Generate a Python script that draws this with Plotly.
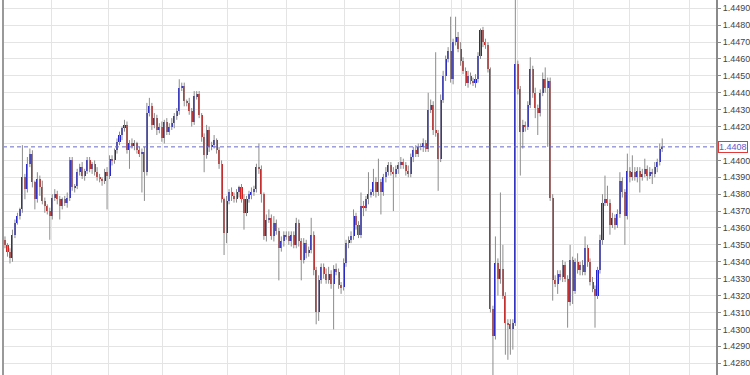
import plotly.graph_objects as go

# ---- data ----
first_open = 1.4353
close = [
    1.4350, 1.4346, 1.4342, 1.4356, 1.4363, 1.4367, 1.4371, 1.4390, 1.4383, 1.4398,
    1.4404, 1.4387, 1.4377, 1.4389, 1.4384, 1.4376, 1.4373, 1.4370, 1.4367, 1.4378,
    1.4380, 1.4377, 1.4373, 1.4377, 1.4375, 1.4378, 1.4400, 1.4384, 1.4385, 1.4393,
    1.4396, 1.4391, 1.4394, 1.4400, 1.4395, 1.4398, 1.4393, 1.4390, 1.4389, 1.4388,
    1.4393, 1.4391, 1.4401, 1.4400, 1.4406, 1.4411, 1.4415, 1.4419, 1.4421, 1.4406,
    1.4410, 1.4409, 1.4410, 1.4406, 1.4404, 1.4405, 1.4393, 1.4428, 1.4432, 1.4421,
    1.4425, 1.4418, 1.4420, 1.4413, 1.4423, 1.4417, 1.4420, 1.4422, 1.4426, 1.4429,
    1.4443, 1.4444, 1.4435, 1.4434, 1.4429, 1.4423, 1.4438, 1.4439, 1.4427, 1.4414,
    1.4403, 1.4418, 1.4408, 1.4409, 1.4412, 1.4406, 1.4398, 1.4377, 1.4357, 1.4376,
    1.4381, 1.4379, 1.4377, 1.4381, 1.4384, 1.4377, 1.4369, 1.4377, 1.4380, 1.4381,
    1.4383, 1.4396, 1.4395, 1.4380, 1.4355, 1.4365, 1.4366, 1.4355, 1.4363, 1.4358,
    1.4348, 1.4352, 1.4356, 1.4355, 1.4352, 1.4356, 1.4350, 1.4363, 1.4352, 1.4341,
    1.4351, 1.4345, 1.4347, 1.4356, 1.4335, 1.4310, 1.4329, 1.4337, 1.4333, 1.4329,
    1.4333, 1.4327, 1.4336, 1.4334, 1.4326, 1.4325, 1.4339, 1.4351, 1.4353, 1.4355,
    1.4367, 1.4362, 1.4356, 1.4373, 1.4372, 1.4377, 1.4380, 1.4381, 1.4387, 1.4381,
    1.4387, 1.4381, 1.4390, 1.4393, 1.4397, 1.4393, 1.4392, 1.4395, 1.4397, 1.4399,
    1.4397, 1.4394, 1.4392, 1.4402, 1.4406, 1.4404, 1.4408, 1.4408, 1.4410, 1.4407,
    1.4430, 1.4433, 1.4418, 1.4416, 1.4401, 1.4436, 1.4450, 1.4460, 1.4465, 1.4448,
    1.4470, 1.4473, 1.4466, 1.4459, 1.4453, 1.4446, 1.4450, 1.4447, 1.4446, 1.4448,
    1.4462, 1.4477, 1.4470, 1.4468, 1.4454, 1.4312, 1.4296, 1.4339, 1.4330, 1.4336,
    1.4320, 1.4304, 1.4303, 1.4300, 1.4304, 1.4457, 1.4442, 1.4417, 1.4421, 1.4420,
    1.4433, 1.4454, 1.4440, 1.4431, 1.4428, 1.4440, 1.4448, 1.4443, 1.4447, 1.4378,
    1.4329, 1.4327, 1.4333, 1.4331, 1.4338, 1.4330, 1.4316, 1.4341, 1.4323, 1.4340,
    1.4335, 1.4338, 1.4334, 1.4348, 1.4340, 1.4328, 1.4324, 1.4320, 1.4335, 1.4353,
    1.4375, 1.4377, 1.4375, 1.4362, 1.4366, 1.4362, 1.4368, 1.4388, 1.4381, 1.4367,
    1.4394, 1.4390, 1.4393, 1.4390, 1.4394, 1.4390, 1.4392, 1.4395, 1.4391, 1.4393,
    1.4392, 1.4396, 1.4399, 1.4407, 1.4408,
]
# upper / lower shadow lengths in pips
up_wick = [
    2, 1, 2, 3, 2, 2, 1, 19, 2, 4,
    3, 2, 1, 4, 2, 4, 2, 1, 2, 2,
    3, 2, 2, 1, 2, 3, 2, 2, 1, 2,
    2, 3, 1, 2, 2, 1, 2, 3, 2, 1,
    2, 3, 2, 2, 1, 2, 2, 1, 3, 2,
    2, 3, 2, 1, 2, 2, 3, 6, 5, 2,
    3, 2, 2, 3, 1, 2, 2, 3, 2, 2,
    5, 2, 2, 1, 3, 2, 3, 2, 2, 1,
    2, 3, 2, 2, 3, 1, 2, 2, 1, 3,
    2, 3, 2, 2, 1, 2, 3, 2, 2, 3,
    2, 2, 14, 2, 1, 3, 5, 2, 4, 2,
    2, 3, 2, 2, 3, 2, 2, 3, 2, 2,
    3, 2, 2, 10, 2, 2, 3, 2, 2, 3,
    4, 2, 2, 3, 2, 2, 3, 2, 2, 3,
    4, 2, 2, 8, 3, 2, 13, 2, 8, 3,
    14, 2, 2, 3, 2, 2, 3, 2, 2, 3,
    2, 2, 3, 2, 2, 3, 2, 2, 3, 2,
    10, 3, 2, 46, 2, 3, 3, 2, 2, 20,
    2, 12, 3, 4, 2, 2, 3, 2, 2, 3,
    2, 1, 2, 2, 2, 1, 2, 16, 3, 45,
    14, 2, 2, 3, 2, 43, 2, 2, 3, 2,
    2, 7, 2, 3, 2, 2, 4, 7, 2, 2,
    2, 3, 2, 2, 3, 2, 2, 9, 2, 2,
    5, 2, 3, 7, 2, 2, 3, 2, 2, 3,
    5, 14, 8, 2, 3, 2, 3, 5, 2, 2,
    10, 2, 10, 3, 2, 2, 3, 6, 2, 3,
    2, 3, 2, 3, 5,
]
dn_wick = [
    2, 3, 3, 2, 2, 1, 2, 2, 6, 2,
    2, 3, 6, 2, 5, 2, 4, 2, 14, 2,
    2, 3, 8, 2, 2, 3, 2, 2, 3, 2,
    2, 2, 3, 2, 2, 3, 2, 2, 2, 3,
    2, 20, 2, 3, 2, 2, 2, 3, 2, 2,
    11, 2, 3, 2, 2, 23, 17, 2, 2, 3,
    2, 3, 2, 2, 3, 2, 2, 2, 3, 2,
    2, 2, 3, 2, 2, 3, 2, 2, 2, 3,
    10, 2, 3, 2, 2, 2, 3, 2, 13, 6,
    2, 3, 2, 2, 3, 2, 10, 2, 2, 3,
    2, 2, 3, 5, 2, 3, 2, 2, 3, 2,
    19, 2, 3, 2, 2, 3, 2, 2, 3, 12,
    2, 3, 2, 2, 3, 7, 5, 2, 3, 2,
    2, 3, 27, 2, 2, 4, 2, 2, 3, 2,
    2, 3, 2, 2, 5, 2, 3, 2, 2, 3,
    2, 13, 2, 3, 2, 2, 22, 2, 3, 2,
    2, 3, 2, 2, 3, 2, 2, 2, 3, 2,
    2, 2, 3, 2, 19, 2, 2, 3, 2, 2,
    3, 2, 2, 3, 2, 2, 3, 2, 2, 3,
    2, 2, 3, 2, 2, 2, 26, 2, 10, 3,
    2, 19, 21, 15, 12, 2, 3, 26, 10, 3,
    2, 2, 3, 6, 13, 2, 2, 3, 35, 2,
    12, 2, 6, 2, 3, 2, 15, 2, 8, 2,
    2, 3, 2, 2, 3, 2, 2, 19, 2, 2,
    3, 2, 2, 6, 2, 3, 2, 2, 3, 17,
    2, 3, 2, 2, 3, 9, 2, 2, 3, 2,
    6, 2, 3, 2, 2,
]
y_ticks = [1.4280, 1.4290, 1.4300, 1.4310, 1.4320, 1.4330, 1.4340, 1.4350,
           1.4360, 1.4370, 1.4380, 1.4390, 1.4400, 1.4410, 1.4420, 1.4430,
           1.4440, 1.4450, 1.4460, 1.4470, 1.4480, 1.4490]
last_price = 1.4408
last_label = "1.4408"

# ---- derived OHLC ----
pip = 0.0001
n = len(close)
idx = list(range(n))
opens = [first_open] + close[:-1]
highs = [max(o, c) + u * pip for o, c, u in zip(opens, close, up_wick)]
lows = [min(o, c) - d * pip for o, c, d in zip(opens, close, dn_wick)]

BLUE = "#2323cf"
RED = "#cc2424"
WICK = "#8c8c8c"

wx, wy = [], []
for i, h, l in zip(idx, highs, lows):
    wx += [i, i, None]
    wy += [l, h, None]

body_base = [min(o, c) for o, c in zip(opens, close)]
body_h = [max(abs(c - o), 0.00005) for o, c in zip(opens, close)]
body_col = [BLUE if c >= o else RED for o, c in zip(opens, close)]

# the last-price box covers the tick label next to it
tick_text = ["" if abs(v - last_price) < 0.0005 else f"{v:.4f}" for v in y_ticks]

fig = go.Figure()
fig.add_trace(go.Scatter(x=wx, y=wy, mode="lines",
                         line=dict(color=WICK, width=1),
                         hoverinfo="skip", showlegend=False))
fig.add_trace(go.Bar(x=idx, y=body_h, base=body_base, width=0.82,
                     marker=dict(color=body_col, line=dict(width=0)),
                     showlegend=False))

grid_x = [18.8, 41.6, 63.2, 89.2, 113.2, 136.4, 158.4, 179.2, 183.2,
          206, 228.4, 250.8, 274.8]

fig.update_layout(
    width=750, height=375,
    margin=dict(l=3, r=31, t=0, b=0),
    paper_bgcolor="white", plot_bgcolor="white",
    bargap=0,
    xaxis=dict(range=[-0.8, 285.6], tickvals=grid_x, showticklabels=False,
               showgrid=True, gridcolor="#e4e4e4", gridwidth=1,
               zeroline=False, ticks="", showline=False, fixedrange=True),
    yaxis=dict(side="right", range=[1.4273, 1.44949],
               tickvals=y_ticks, ticktext=tick_text,
               showgrid=True, gridcolor="#e4e4e4", gridwidth=1,
               zeroline=False, showline=True, linecolor="#8a8a8a", linewidth=2,
               ticks="outside", ticklen=3, tickcolor="#8a8a8a",
               tickfont=dict(family="Liberation Sans, Arial", size=9, color="#444444")),
    shapes=[
        dict(type="line", xref="paper", yref="y", x0=0, x1=1,
             y0=last_price, y1=last_price,
             line=dict(color="#6a6ac8", width=1, dash="4px,3px")),
        dict(type="line", xref="paper", yref="paper", x0=0, x1=0, y0=0, y1=1,
             line=dict(color="#999999", width=2)),
    ],
    annotations=[
        dict(xref="paper", yref="y", x=1, y=last_price, xanchor="left",
             yanchor="middle", xshift=2, text=last_label, showarrow=False,
             font=dict(family="Liberation Sans, Arial", size=9, color="#5a5ad0"),
             bgcolor="white", bordercolor="#e03a3a", borderwidth=1, borderpad=0),
    ],
)

fig.write_html("out.html")
